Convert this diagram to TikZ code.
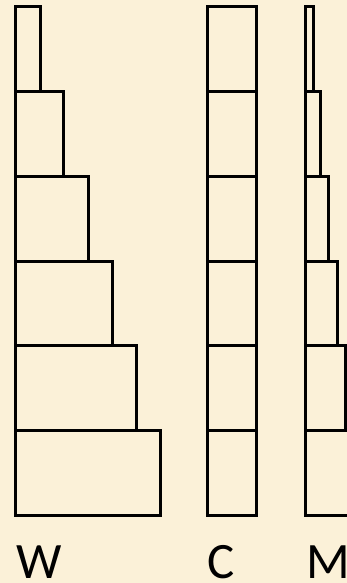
\documentclass[tikz,border=0pt]{standalone}
\usepackage{fontspec}
\setmainfont{Carlito}
\usetikzlibrary{positioning}
\definecolor{parchment}{RGB}{251,241,216}
\definecolor{inkblack}{RGB}{0,0,0}

\begin{document}
\begin{tikzpicture}[
    x=1pt, y=-1pt,
    cell/.style={draw=inkblack, line width=3pt, line join=miter},
    colname/.style={anchor=base west, inner sep=0pt, text=inkblack,
        font=\fontsize{51}{51}\selectfont}
]
    \fill[parchment] (0,0) rectangle (347,583);
    \clip (0,0) rectangle (347,583);

    % W: widths grow step by step
    \draw[cell] (15.5,7) rectangle (40,91.7);
    \draw[cell] (15.5,91.7) rectangle (63.5,176.3);
    \draw[cell] (15.5,176.3) rectangle (88,261);
    \draw[cell] (15.5,261) rectangle (112,345.7);
    \draw[cell] (15.5,345.7) rectangle (136,430.3);
    \draw[cell] (15.5,430.3) rectangle (160,515);

    % C: constant width
    \draw[cell] (207,7) rectangle (256,91.7);
    \draw[cell] (207,91.7) rectangle (256,176.3);
    \draw[cell] (207,176.3) rectangle (256,261);
    \draw[cell] (207,261) rectangle (256,345.7);
    \draw[cell] (207,345.7) rectangle (256,430.3);
    \draw[cell] (207,430.3) rectangle (256,515);

    % M: small steps
    \draw[cell] (305,7) rectangle (313,91.7);
    \draw[cell] (305,91.7) rectangle (320,176.3);
    \draw[cell] (305,176.3) rectangle (328,261);
    \draw[cell] (305,261) rectangle (337,345.7);
    \draw[cell] (305,345.7) rectangle (345,430.3);
    \draw[cell] (305,430.3) rectangle (353,515);

    \node[colname] (wlabel) at (16,578) {W};
    \node[colname] (clabel) at (207,578) {C};
    \node[colname] (mlabel) at (306,578) {M};
\end{tikzpicture}
\end{document}
